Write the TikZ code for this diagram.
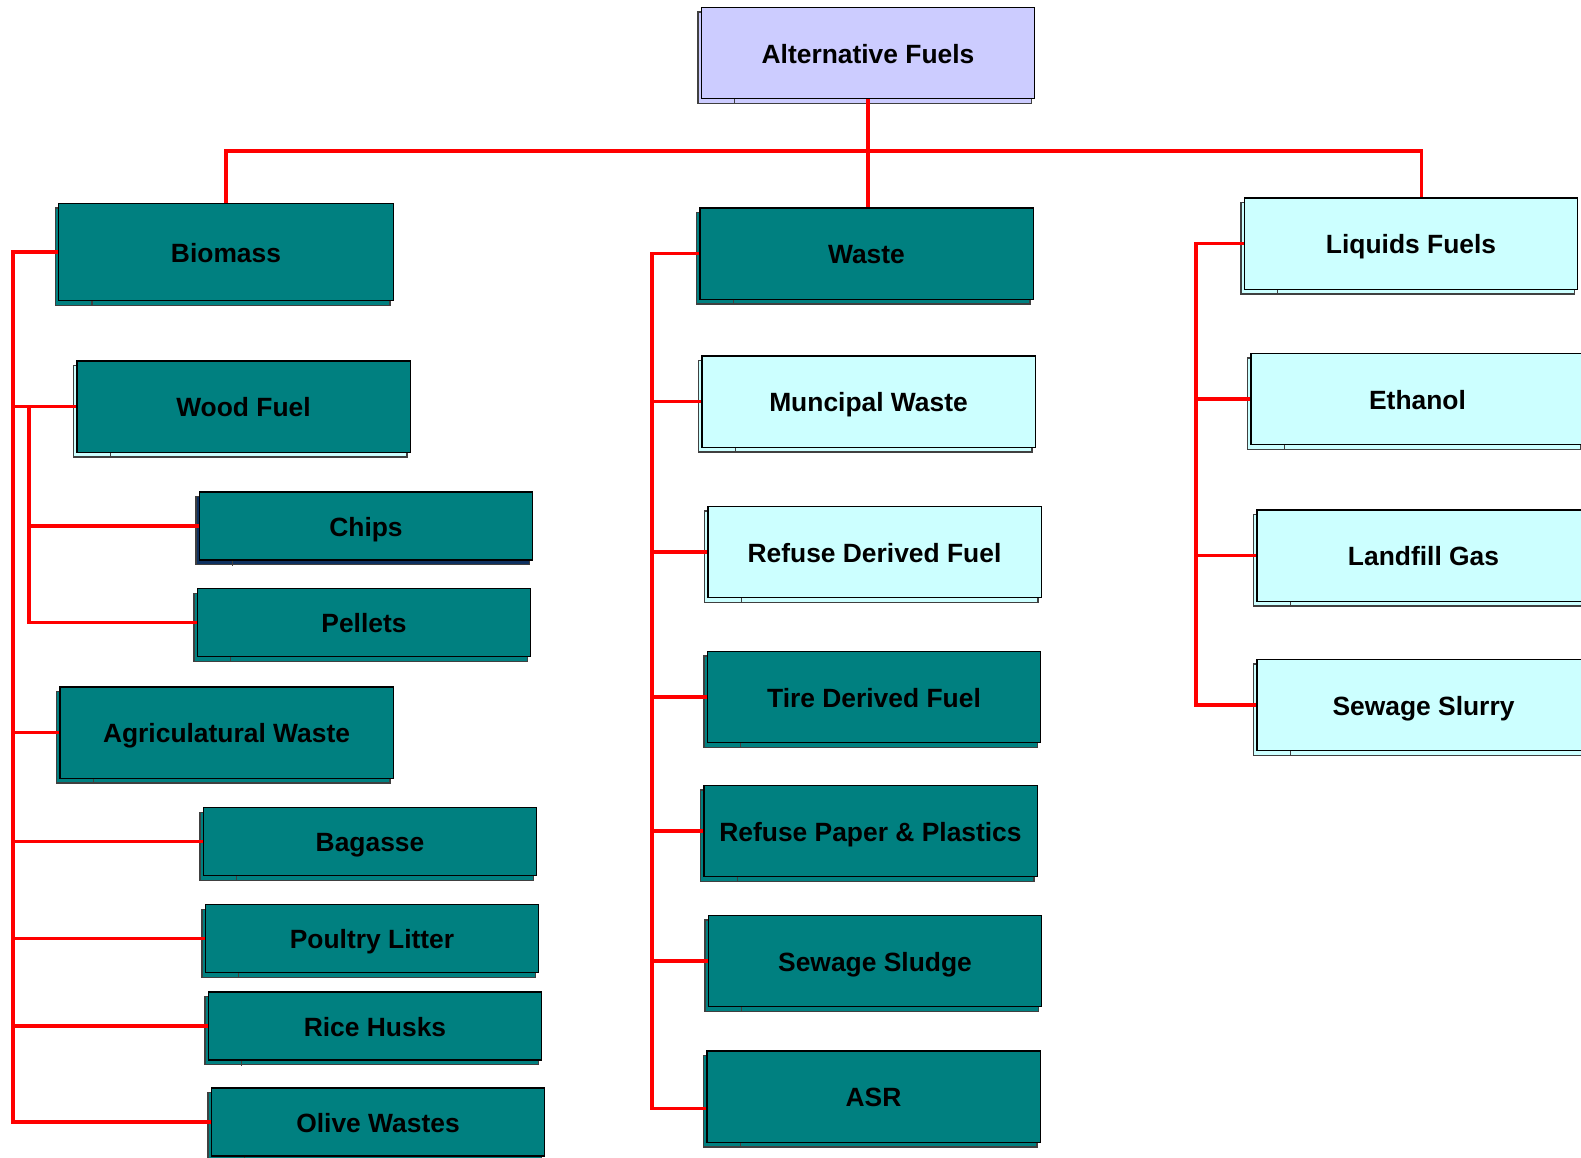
\documentclass[tikz,border=0pt]{standalone}
\usepackage{fontspec}
\setmainfont{Liberation Sans}
\usetikzlibrary{shadows}

\definecolor{fueldark}{HTML}{008080}
\definecolor{fuellight}{HTML}{CCFFFF}
\definecolor{fueltop}{HTML}{CCCCFF}
\definecolor{fuelnavy}{HTML}{0E3160}

\tikzset{
  fuelbox/.style={draw=black, line width=1pt, fill=#1, inner sep=0pt,
    minimum width=250pt, minimum height=68.5pt,
    text height=18.5pt, text depth=3pt,
    font=\bfseries\fontsize{19.8}{22}\selectfont},
  backing/.style={copy shadow={fill=#1, draw=black!75, line width=1pt,
    shadow xshift=-2.5pt, shadow yshift=-3.5pt}},
  darkbox/.style={fuelbox=fueldark, backing=fueldark},
  lightbox/.style={fuelbox=fuellight, backing=fuellight},
  slimbox/.style={minimum height=51pt},
  link/.style={draw=red, line width=2.6pt},
}

\begin{document}
\begin{tikzpicture}[x=0.75pt,y=-0.75pt]
\clip (0,0) rectangle (1581,1157);

% root
\node[fuelbox=fueltop, backing=fueltop] (alt) at (868,53) {Alternative Fuels};

% biomass branch
\node[darkbox, minimum width=251pt, minimum height=73pt] (biomass) at (226,252) {Biomass};
\node[fuelbox=fueldark, backing=fuellight] (wood) at (243.5,406.5) {Wood Fuel};
\node[fuelbox=fueldark, backing=fuelnavy, slimbox] (chips) at (366,526) {Chips};
\node[darkbox, slimbox] (pellets) at (364,622.5) {Pellets};
\node[darkbox] (agri) at (226.5,732.5) {Agriculatural Waste};
\node[darkbox, slimbox] (bagasse) at (370,841.5) {Bagasse};
\node[darkbox, slimbox] (poultry) at (372,938.5) {Poultry Litter};
\node[darkbox, slimbox] (rice) at (375,1026) {Rice Husks};
\node[darkbox, slimbox] (olive) at (378,1122) {Olive Wastes};

% waste branch
\node[darkbox] (waste) at (866.5,253.5) {Waste};
\node[lightbox] (municipal) at (868.5,401.5) {Muncipal Waste};
\node[lightbox] (rdf) at (874.5,552) {Refuse Derived Fuel};
\node[darkbox] (tdf) at (874,697) {Tire Derived Fuel};
\node[darkbox] (rpp) at (870.5,831) {Refuse Paper \& Plastics};
\node[darkbox] (sludge) at (875,961) {Sewage Sludge};
\node[darkbox] (asr) at (873.5,1096.5) {ASR};

% liquids branch
\node[lightbox] (liquids) at (1411,243.5) {Liquids Fuels};
\node[lightbox] (ethanol) at (1417.5,399) {Ethanol};
\node[lightbox] (landfill) at (1423.5,555.5) {Landfill Gas};
\node[lightbox] (slurry) at (1423.5,705) {Sewage Slurry};

% little marks under the boxes
\foreach \n in {alt,biomass,wood,chips,pellets,agri,bagasse,poultry,rice,olive,
  waste,municipal,rdf,tdf,rpp,sludge,asr,liquids,ethanol,landfill,slurry}
  \draw[line width=1pt, black!75] ([xshift=25.5pt]\n.south west) -- ++(0,5);

% bus positions
\coordinate (hub) at (868,151);
\coordinate (bbus) at (13,0);
\coordinate (wbus) at (29,0);
\coordinate (sbus) at (652,0);
\coordinate (lbus) at (1196,0);

% top level links
\draw[link] (alt.south) -- (hub);
\draw[link] (hub) -| (biomass.north);
\draw[link] (hub) -- (hub |- waste.north);
\draw[link] (hub) -| ([xshift=8pt]liquids.north);

% biomass links
\draw[link] (biomass.west) -- (biomass.west -| bbus) |- (olive.west);
\foreach \n in {wood,agri,bagasse,poultry,rice}
  \draw[link] (\n.west -| bbus) -- (\n.west);
\draw[link] (wood.west -| wbus) |- (pellets.west);
\draw[link] (chips.west -| wbus) -- (chips.west);

% waste links
\draw[link] (waste.west) -- (waste.west -| sbus) |- ([yshift=-9pt]asr.west);
\foreach \n in {municipal,rdf,tdf,rpp,sludge}
  \draw[link] (\n.west -| sbus) -- (\n.west);

% liquids links
\draw[link] (liquids.west) -- (liquids.west -| lbus) |- (slurry.west);
\foreach \n in {ethanol,landfill}
  \draw[link] (\n.west -| lbus) -- (\n.west);
\end{tikzpicture}
\end{document}
